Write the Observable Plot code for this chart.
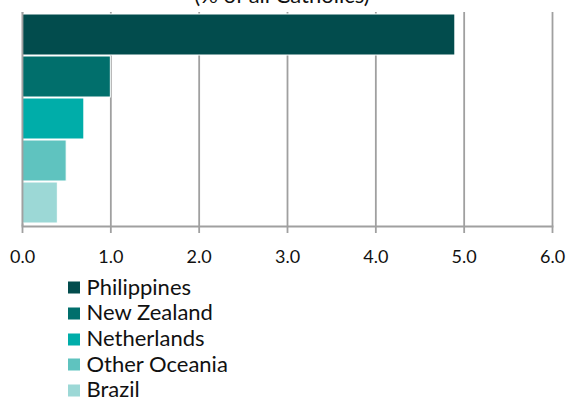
<!DOCTYPE html>
<html>
<head>
<meta charset="utf-8">
<script src="https://cdn.jsdelivr.net/npm/d3@7"></script>
<script src="https://cdn.jsdelivr.net/npm/@observablehq/plot@0.6"></script>
<style>
  html, body { margin: 0; padding: 0; background: white; overflow: hidden; }
  #wrap { position: relative; width: 568px; height: 401px; font-family: Lato, sans-serif; color: #111; }
  #title { position: absolute; top: -15px; left: -2px; width: 568px; text-align: center; font-size: 22px; line-height: 20px; }
  #legend { position: absolute; top: 273.5px; left: 68px; }
  .row { display: flex; align-items: center; height: 25.7px; font-size: 22px; line-height: 25.7px; }
  .sw { width: 12px; height: 12px; margin-right: 6.5px; transform: translateY(1.5px); }
</style>
</head>
<body>
<div id="wrap">
  <div id="chart"></div>
  <div id="title"></div>
  <div id="legend"></div>
</div>
<script>
const countries = ["Philippines", "New Zealand", "Netherlands", "Other Oceania", "Brazil"];
const shares = [4.9, 1.0, 0.7, 0.5, 0.4];
const colors = ["#024C4D", "#016F6C", "#00ADA9", "#5FC3BF", "#9CD8D6"];
const xTicks = [0, 1, 2, 3, 4, 5, 6];
const titleText = "(% of all Catholics)";

const data = countries.map((c, i) => ({country: c, share: shares[i]}));
const grey = "#a0a0a0";

const chart = Plot.plot({
  width: 568,
  height: 270,
  marginLeft: 22,
  marginRight: 16,
  marginTop: 12,
  marginBottom: 44,
  style: {fontFamily: "Lato, sans-serif", background: "white"},
  x: {domain: [0, 6], label: null},
  y: {domain: countries, padding: 0.02, axis: null},
  color: {domain: countries, range: colors},
  marks: [
    Plot.ruleX(xTicks, {stroke: grey, strokeWidth: 1.8}),
    Plot.barX(data, {x: "share", y: "country", fill: "country", stroke: "white", strokeWidth: 1}),
    Plot.ruleX([0], {stroke: grey, strokeWidth: 1.8}),
    Plot.frame({anchor: "bottom", stroke: grey, strokeWidth: 1.8}),
    Plot.axisX({ticks: xTicks, tickSize: 7, tickPadding: 17, tickFormat: d => d.toFixed(1),
      label: null, fontSize: 18, stroke: grey, strokeWidth: 1.8, fill: "#111"})
  ]
});
document.getElementById("chart").append(chart);
document.getElementById("title").textContent = titleText;

const legend = document.getElementById("legend");
countries.forEach((c, i) => {
  const row = document.createElement("div");
  row.className = "row";
  const sw = document.createElement("div");
  sw.className = "sw";
  sw.style.background = colors[i];
  const lab = document.createElement("span");
  lab.textContent = c;
  row.append(sw, lab);
  legend.append(row);
});
</script>
</body>
</html>
